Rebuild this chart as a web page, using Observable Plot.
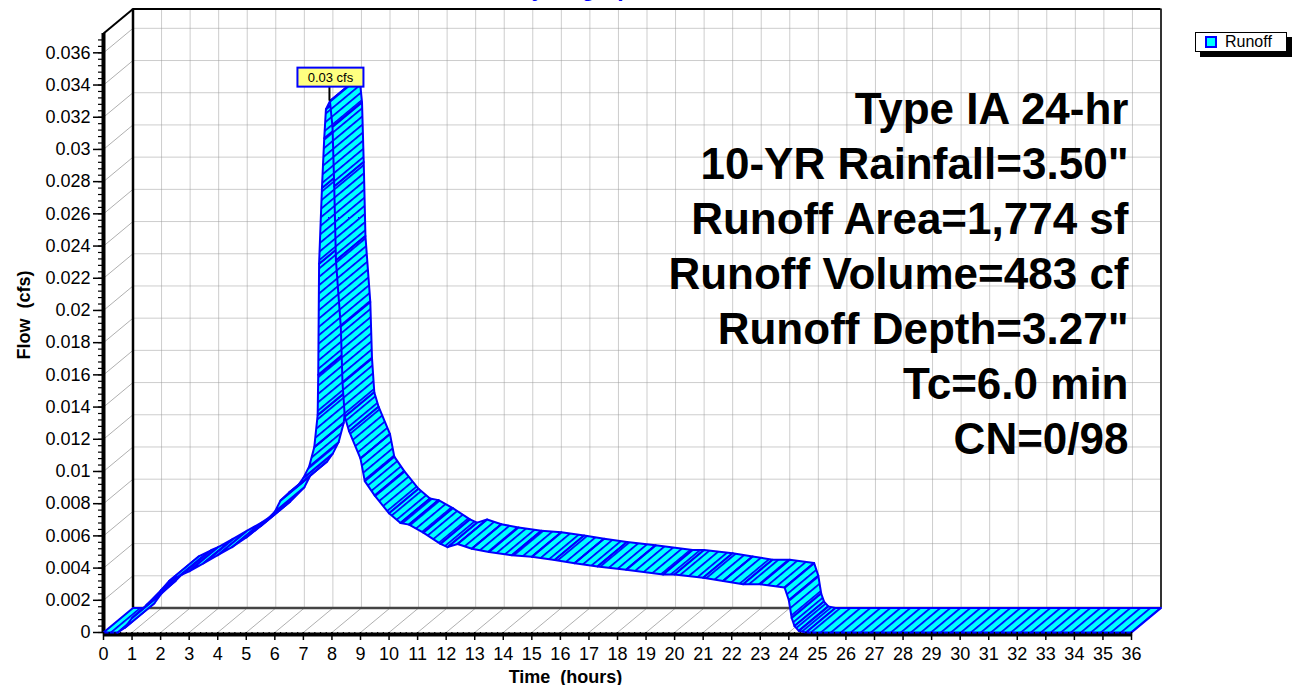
<!DOCTYPE html>
<html>
<head>
<meta charset="utf-8">
<script src="https://cdn.jsdelivr.net/npm/d3@7"></script>
<script src="https://cdn.jsdelivr.net/npm/@observablehq/plot@0.6"></script>
<style>
  html, body { margin: 0; padding: 0; background: #fff; overflow: hidden; }
  #chart { position: relative; width: 1294px; height: 685px; font-family: Arial, "Liberation Sans", sans-serif; }
  #title { position: absolute; left: 515px; top: -23px; font: bold 23px Arial, "Liberation Sans", sans-serif; line-height: 23px; color: #0000ff; white-space: nowrap; }
  .legend { position: absolute; left: 1195px; top: 32px; width: 90px; height: 18px; border: 1px solid #000; background: #fff;
            box-shadow: 5px 5px 0 #000; display: flex; align-items: center; font: 16px Arial, "Liberation Sans", sans-serif; }
  .legend .swatch { width: 8px; height: 8px; background: #00ffff; border: 2px solid #0000ff; margin: 0 8px 0 9px; }
</style>
</head>
<body>
<div id="chart">
  <div id="title">Hydrograph</div>
  <div class="legend"><span class="swatch"></span><span>Runoff</span></div>
</div>
<script>
// Runoff hydrograph (time in hours, flow in cfs)
const hours = [0, 0.5, 0.75, 1.0, 1.5, 2.0, 2.3, 2.75, 3.0, 3.5, 4.0, 4.5, 5.0, 5.5, 6.0, 6.2, 6.5, 6.8, 7.0, 7.2,
  7.38, 7.5, 7.52, 7.55, 7.65, 7.73, 7.79, 7.93, 8.02, 8.08, 8.14, 8.31, 8.37, 8.45, 8.6, 9.0, 9.15, 9.5, 10.0, 10.4,
  10.7, 11.2, 11.8, 12.05, 12.4, 12.9, 13.5, 14.3, 15.0, 15.8, 16.5, 17.3, 18.3, 19.6, 20.0, 21.0, 21.7, 22.4, 23.0, 23.85,
  24.0, 24.1, 24.2, 24.35, 24.6, 36];
const flow = [0, 0, 0.0003, 0.0009, 0.0017, 0.0026, 0.0032, 0.0036, 0.0038, 0.0043, 0.0048, 0.0053, 0.0059, 0.0066, 0.0075, 0.0082, 0.0087, 0.0091, 0.0096, 0.0103,
  0.0115, 0.0135, 0.0160, 0.0229, 0.0276, 0.0307, 0.0325, 0.0330, 0.0314, 0.0277, 0.0231, 0.0190, 0.0155, 0.0134, 0.0125, 0.0108, 0.0094, 0.0085, 0.0074, 0.0068,
  0.0067, 0.0062, 0.0055, 0.0053, 0.0055, 0.0052, 0.0050, 0.0048, 0.0047, 0.0045, 0.0043, 0.0041, 0.0039, 0.0036, 0.0036, 0.0034, 0.0032, 0.0030, 0.0030, 0.0028,
  0.0020, 0.0009, 0.0004, 0.0001, 0, 0];

// Axis ticks
const xTicks = d3.range(0, 37, 1);
const xMinor = d3.range(0, 36.01, 0.2);
const yTicks = [0, 0.002, 0.004, 0.006, 0.008, 0.01, 0.012, 0.014, 0.016, 0.018, 0.02, 0.022, 0.024, 0.026, 0.028, 0.03, 0.032, 0.034, 0.036];
const yMinor = d3.range(0, 0.0371, 0.0004);

// Storm summary block
const infoLines = ["Type IA 24-hr", "10-YR Rainfall=3.50\"", "Runoff Area=1,774 sf", "Runoff Volume=483 cf",
  "Runoff Depth=3.27\"", "Tc=6.0 min", "CN=0/98"];
const unit = "cfs";

// Layout and 3-D depth (pixels)
const W = 1294, H = 685;
const M = {left: 103, right: 163, top: 33, bottom: 53};
const X_MAX = 36, Y_MAX = 0.0372;
const DEPTH_X = 29.5, DEPTH_Y = 24.5;
const pxPerHour = (W - M.left - M.right) / X_MAX;
const pxPerCfs = (H - M.top - M.bottom) / Y_MAX;
const DT = DEPTH_X / pxPerHour;   // depth offset in hours
const DQ = DEPTH_Y / pxPerCfs;    // depth offset in cfs

// Ribbon faces: one closed quad per consecutive pair of points,
// front edge at (t, q) and back edge pushed back by the depth offset
const ribbon = [];
for (let i = 0; i + 1 < hours.length; ++i) {
  const a = {t: hours[i], q: flow[i]}, b = {t: hours[i + 1], q: flow[i + 1]};
  ribbon.push(
    {seg: i, t: a.t, q: a.q},
    {seg: i, t: b.t, q: b.q},
    {seg: i, t: b.t + DT, q: b.q + DQ},
    {seg: i, t: a.t + DT, q: a.q + DQ},
    {seg: i, t: a.t, q: a.q}
  );
}
const iPeak = d3.maxIndex(flow);
const peak = {t: hours[iPeak], q: flow[iPeak]};

const grid = {stroke: "#9a9a9a", strokeWidth: 1, strokeDasharray: "1,1"};
const fmtFlow = d => String(+d.toFixed(3));

function peakLabel(index, scales) {
  const x = scales.x(peak.t), y = scales.y(peak.q);
  const g = d3.create("svg:g");
  g.append("line").attr("x1", x).attr("x2", x).attr("y1", y).attr("y2", y - 14)
    .attr("stroke", "#000").attr("stroke-width", 2);
  g.append("rect").attr("x", x - 32).attr("y", y - 33).attr("width", 66).attr("height", 19)
    .attr("fill", "#ffff80").attr("stroke", "#0000ff").attr("stroke-width", 2);
  g.append("text").attr("x", x + 1).attr("y", y - 19).attr("text-anchor", "middle")
    .attr("font-size", 13).attr("fill", "#000").text(`${d3.format(".2f")(peak.q)} ${unit}`);
  return g.node();
}

const chart = Plot.plot({
  width: W, height: H,
  marginLeft: M.left, marginRight: M.right, marginTop: M.top, marginBottom: M.bottom,
  x: {domain: [0, X_MAX]},
  y: {domain: [0, Y_MAX]},
  style: {fontFamily: "Arial, 'Liberation Sans', sans-serif", fontSize: "18px", background: "white", overflow: "visible"},
  marks: [
    // floor diagonals and left-wall diagonals
    Plot.link(xTicks, {x1: d => d, y1: 0, x2: d => d + DT, y2: DQ, stroke: "#9a9a9a", strokeWidth: 0.8}),
    Plot.link(yTicks, {x1: 0, y1: d => d, x2: DT, y2: d => d + DQ, stroke: "#9a9a9a", strokeWidth: 0.8}),
    // back wall grid
    Plot.ruleX(xTicks.slice(1, -1), {x: d => d + DT, y1: DQ, y2: Y_MAX + DQ, ...grid}),
    Plot.ruleY(yTicks.slice(1), {y: d => d + DQ, x1: DT, x2: X_MAX + DT, ...grid}),
    // back wall frame
    Plot.ruleY([DQ], {x1: DT, x2: X_MAX + DT, stroke: "#444", strokeWidth: 2.5}),
    Plot.ruleX([X_MAX + DT], {y1: DQ, y2: Y_MAX + DQ, stroke: "#333", strokeWidth: 2}),
    Plot.ruleY([Y_MAX + DQ], {x1: DT, x2: X_MAX + DT, stroke: "#000", strokeWidth: 2}),
    Plot.ruleX([DT], {y1: DQ, y2: Y_MAX + DQ, stroke: "#000", strokeWidth: 2.5}),
    Plot.link([0], {x1: 0, y1: Y_MAX, x2: DT, y2: Y_MAX + DQ, stroke: "#000", strokeWidth: 2}),
    // front axis lines
    Plot.ruleY([0], {x1: 0, x2: X_MAX, stroke: "#000", strokeWidth: 4, dy: 2}),
    Plot.ruleX([0], {y1: 0, y2: Y_MAX, stroke: "#000", strokeWidth: 4}),
    // hydrograph ribbon (the only line mark in the chart)
    Plot.line(ribbon, {x: "t", y: "q", z: "seg", fill: "#00ffff", stroke: "#0000ff", strokeWidth: 2,
      strokeLinejoin: "round"}),
    // axes
    Plot.axisY(yMinor, {anchor: "left", tickSize: 5, tickFormat: () => "", label: null, strokeWidth: 1.2}),
    Plot.axisY(yTicks, {anchor: "left", tickSize: 10, tickPadding: 3, tickFormat: fmtFlow, label: null, strokeWidth: 1.5, fontSize: 18}),
    Plot.axisX(xMinor, {anchor: "bottom", tickSize: 4, tickFormat: () => "", label: null, strokeWidth: 1.2}),
    Plot.axisX(xTicks, {anchor: "bottom", tickSize: 8, tickPadding: 7, label: null, strokeWidth: 1.5, fontSize: 18}),
    // axis titles
    Plot.text(["Time  (hours)"], {frameAnchor: "bottom-left", dx: 462, dy: 50, lineAnchor: "bottom", textAnchor: "middle",
      fontWeight: "bold", fontSize: 18}),
    Plot.text(["Flow  (cfs)"], {frameAnchor: "left", dx: -79, dy: -18, rotate: -90, textAnchor: "middle", lineAnchor: "middle",
      fontWeight: "bold", fontSize: 18}),
    // storm summary
    Plot.text([infoLines.join("\n")], {frameAnchor: "top-right", dx: -3, dy: 51, lineAnchor: "top", textAnchor: "end",
      lineHeight: 55 / 44, fontSize: 44, fontWeight: "bold", fill: "#000"}),
    // peak callout
    peakLabel
  ]
});

// hatch fill for the ribbon: cyan ground with blue lines along the depth direction
const svg = d3.select(chart);
const defs = svg.insert("defs", ":first-child");
const angle = Math.atan2(DEPTH_X, DEPTH_Y) * 180 / Math.PI;
const gap = 10 * DEPTH_Y / Math.hypot(DEPTH_X, DEPTH_Y);
const pat = defs.append("pattern").attr("id", "runoff-hatch").attr("patternUnits", "userSpaceOnUse")
  .attr("width", gap).attr("height", 10).attr("patternTransform", `rotate(${angle})`);
pat.append("rect").attr("width", gap).attr("height", 10).attr("fill", "#00ffff");
pat.append("rect").attr("width", 1.7).attr("height", 10).attr("fill", "#0000ff");
svg.select('g[aria-label="line"]').attr("fill", "url(#runoff-hatch)");

chart.style.position = "absolute";
chart.style.left = "0px";
chart.style.top = "0px";
document.getElementById("chart").prepend(chart);
</script>
</body>
</html>
